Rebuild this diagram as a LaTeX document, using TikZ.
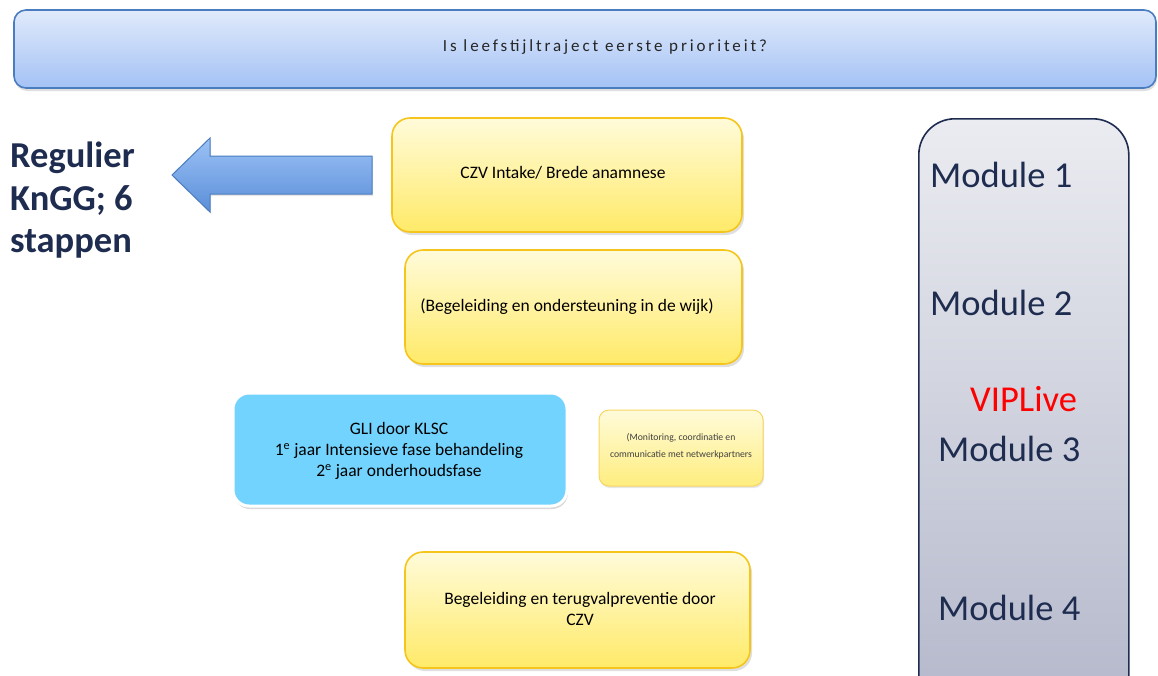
\documentclass[tikz,border=0pt]{standalone}
\usepackage{fontspec}
\setmainfont{Carlito}
\usetikzlibrary{shadows}
\definecolor{bannerTop}{HTML}{E0EAFB}
\definecolor{bannerBot}{HTML}{A4C2F5}
\definecolor{bannerLine}{HTML}{4A7DC0}
\definecolor{arrTop}{HTML}{9CC2F6}
\definecolor{arrBot}{HTML}{5A8ED8}
\definecolor{yelTop}{HTML}{FFFBDA}
\definecolor{yelBot}{HTML}{FFEA68}
\definecolor{yelLine}{HTML}{F5C51C}
\definecolor{gliFill}{HTML}{72D4FE}
\definecolor{modTop}{HTML}{EBECF1}
\definecolor{modBot}{HTML}{B3B7CA}
\definecolor{navy}{HTML}{1E2C50}
\tikzset{
  yelbox/.style={draw=yelLine, line width=1.6pt, rounded corners=18pt, top color=yelTop, bottom color=yelBot,
    drop shadow={opacity=0.25, shadow xshift=2pt, shadow yshift=-3pt}, inner sep=0pt},
  boxtext/.style={align=center, font=\fontsize{17.5}{21}\selectfont, inner sep=0pt},
  modtext/.style={text=navy, font=\fontsize{36.5}{40}\selectfont, anchor=west, inner sep=0pt},
}
\begin{document}
\begin{tikzpicture}[x=1pt,y=-1pt]
\useasboundingbox (0,0) rectangle (1158,675);
\clip (0,0) rectangle (1158,675);
% banner
\node[draw=bannerLine, line width=1.6pt, rounded corners=12pt, top color=bannerTop, bottom color=bannerBot,
  drop shadow={opacity=0.25, shadow xshift=1pt, shadow yshift=-3pt},
  minimum width=1142pt, minimum height=78pt, inner sep=0pt] (banner) at (585,49) {};
\node[font=\fontsize{17}{20}\selectfont\addfontfeature{LetterSpace=17}, text=black!85, inner sep=0pt] (question) at (605,47) {Is leefstijltraject eerste prioriteit?};
% left text
\node[text=navy, font=\fontsize{36.5}{42.5}\selectfont\bfseries, align=left, anchor=north west, inner sep=0pt] (regulier) at (10,142) {Regulier\\KnGG; 6\\stappen};
% block arrow
\draw[draw=bannerLine, line width=1pt, top color=arrTop, bottom color=arrBot, drop shadow={opacity=0.2, shadow xshift=1pt, shadow yshift=-2pt}]
  (172,175) -- (210,138) -- (210,156) -- (372,156) -- (372,194) -- (210,194) -- (210,212) -- cycle;
% yellow boxes
\node[yelbox, minimum width=350pt, minimum height=114pt] (intake) at (567,175) {};
\node[boxtext] (intaketxt) at (563,173) {CZV Intake/ Brede anamnese};
\node[yelbox, minimum width=337pt, minimum height=114pt] (wijk) at (573.5,307) {};
\node[boxtext] (wijktxt) at (567,307) {(Begeleiding en ondersteuning in de wijk)};
% GLI box
\node[draw=white, line width=3pt, rounded corners=16pt, fill=gliFill,
  drop shadow={opacity=0.3, shadow xshift=1pt, shadow yshift=-3pt},
  minimum width=334pt, minimum height=113pt, inner sep=0pt] (gli) at (400,449.5) {};
\node[boxtext] (glitxt) at (399,451) {GLI door KLSC\\1\textsuperscript{e} jaar Intensieve fase behandeling\\2\textsuperscript{e} jaar onderhoudsfase};
% small monitoring box
\node[draw=yelLine!70, line width=1pt, rounded corners=10pt, top color=yelTop, bottom color=yelBot!85,
  drop shadow={opacity=0.2, shadow xshift=1pt, shadow yshift=-2pt},
  minimum width=164pt, minimum height=76pt, inner sep=0pt] (monitor) at (681,448) {};
\node[align=center, font=\fontsize{9.7}{17}\selectfont, text=black!75, inner sep=0pt] (monitortxt) at (681,446) {(Monitoring, coordinatie en\\communicatie met netwerkpartners};
% bottom box
\node[yelbox, minimum width=345pt, minimum height=116pt] (terugval) at (577.5,610) {};
\node[boxtext] (terugvaltxt) at (580,609) {Begeleiding en terugvalpreventie door\\CZV};
% module column
\node[draw=navy, line width=1.6pt, rounded corners=36pt, top color=modTop, bottom color=modBot,
  minimum width=210pt, minimum height=600pt, inner sep=0pt, anchor=north west] (modules) at (918,118) {};
\node[modtext] (m1) at (930,175) {Module 1};
\node[modtext] (m2) at (930,303) {Module 2};
\node[modtext, text=red] (vip) at (970,399) {VIPLive};
\node[modtext] (m3) at (938,449) {Module 3};
\node[modtext] (m4) at (938,608) {Module 4};
\end{tikzpicture}
\end{document}
